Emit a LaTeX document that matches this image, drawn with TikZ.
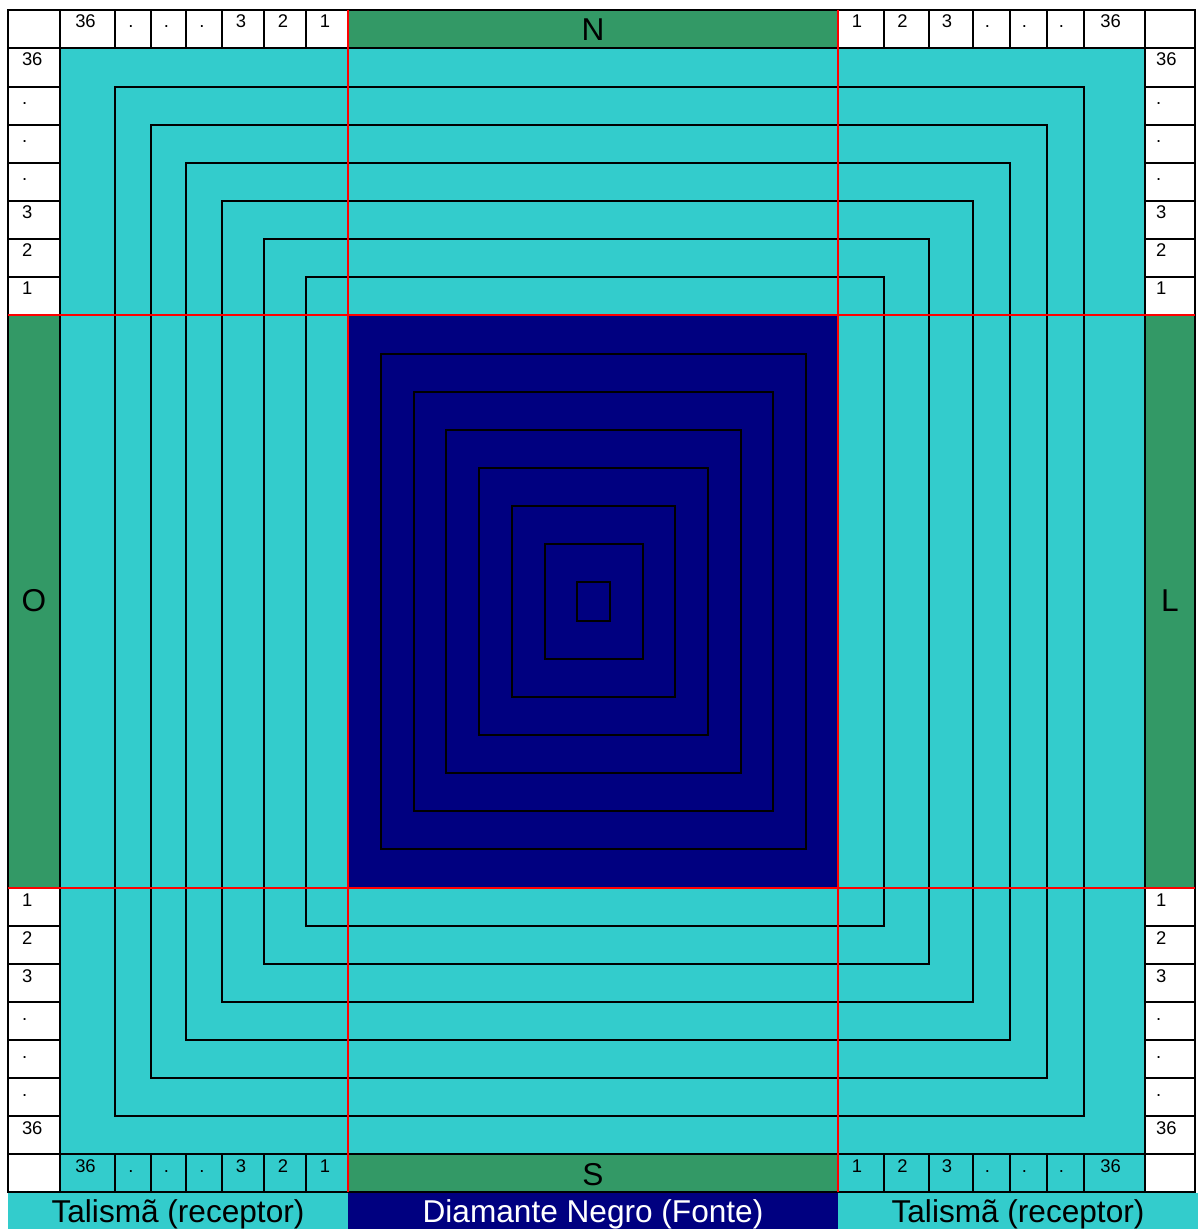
\documentclass[tikz,border=0pt]{standalone}
\usepackage{fontspec}
\setmainfont{Liberation Sans}
\usepackage{tikz}
\usetikzlibrary{positioning}
\definecolor{turquesa}{HTML}{33CCCC}
\definecolor{verde}{HTML}{339966}
\definecolor{marinho}{HTML}{000080}

\begin{document}
\begin{tikzpicture}[x=0.5pt, y=-0.5pt, line width=1pt,
    num/.style={font=\fontsize{9.2}{10}\selectfont, anchor=base, inner sep=0pt},
    cardeal/.style={font=\fontsize{15.8}{17}\selectfont, inner sep=0pt},
    legenda/.style={font=\fontsize{15.8}{17}\selectfont, anchor=base, inner sep=0pt},
    vermelho/.style={red, line width=1pt}]
    \useasboundingbox (0,0) rectangle (1198,1229);

    % Fundos
    \fill[white] (0,0) rectangle (1198,1229);
    \fill[turquesa] (60,48) rectangle (1145,1154);
    \fill[turquesa] (60,1154) rectangle (348,1192);
    \fill[turquesa] (838,1154) rectangle (1145,1192);
    \fill[marinho] (348,315) rectangle (838,888);

    % Faixas cardeais
    \draw[fill=verde] (348,10) rectangle (838,48);
    \draw[fill=verde] (348,1154) rectangle (838,1192);
    \draw[fill=verde] (8,315) rectangle (60,888);
    \draw[fill=verde] (1145,315) rectangle (1195,888);
    \node[cardeal, anchor=base] (N) at (593,41) {N};
    \node[cardeal, anchor=base] (S) at (593,1185) {S};
    \node[cardeal] (O) at (34,601) {O};
    \node[cardeal] (L) at (1170,601) {L};

    % Cantos vazios
    \draw (8,10) rectangle (60,48);
    \draw (1145,10) rectangle (1195,48);
    \draw (8,1154) rectangle (60,1192);
    \draw (1145,1154) rectangle (1195,1192);

    % Escalas horizontais (topo e base)
    \foreach \a/\b/\t [count=\i] in {60/115/36, 115/151/., 151/186/., 186/222/., 222/264/3, 264/306/2, 306/348/1} {
        \draw (\a,10) rectangle (\b,48);
        \draw (\a,1154) rectangle (\b,1192);
        \node[num] (nw\i) at ({(\a+\b)/2-2},28) {\t};
        \node[num] (sw\i) at ({(\a+\b)/2-2},1172) {\t};
    }
    \foreach \a/\b/\t [count=\i] in {838/884/1, 884/929/2, 929/973/3, 973/1010/., 1010/1047/., 1047/1084/., 1084/1145/36} {
        \draw (\a,10) rectangle (\b,48);
        \draw (\a,1154) rectangle (\b,1192);
        \node[num] (ne\i) at ({(\a+\b)/2-4},28) {\t};
        \node[num] (se\i) at ({(\a+\b)/2-4},1172) {\t};
    }

    % Escalas verticais (esquerda e direita)
    \foreach \a/\b/\t [count=\i] in {48/87/36, 87/125/., 125/163/., 163/201/., 201/239/3, 239/277/2, 277/315/1} {
        \draw (8,\a) rectangle (60,\b);
        \draw (1145,\a) rectangle (1195,\b);
        \node[num, anchor=base west] (wn\i) at (21,\a+18) {\t};
        \node[num, anchor=base west] (en\i) at (1155,\a+18) {\t};
    }
    \foreach \a/\b/\t [count=\i] in {888/926/1, 926/964/2, 964/1002/3, 1002/1040/., 1040/1078/., 1078/1116/., 1116/1154/36} {
        \draw (8,\a) rectangle (60,\b);
        \draw (1145,\a) rectangle (1195,\b);
        \node[num, anchor=base west] (ws\i) at (21,\a+18) {\t};
        \node[num, anchor=base west] (es\i) at (1155,\a+18) {\t};
    }

    % Molduras do talisma
    \foreach \l/\t/\r/\b in {115/87/1084/1116, 151/125/1047/1078, 186/163/1010/1040,
                             222/201/973/1002, 264/239/929/964, 306/277/884/926}
        \draw (\l,\t) rectangle (\r,\b);

    % Molduras do diamante
    \foreach \k in {0,...,6}
        \draw ({381+32.7*\k},{354+38*\k}) rectangle ({806-32.7*\k},{849-38*\k});

    % Eixos
    \draw[vermelho] (348,10) -- (348,1192);
    \draw[vermelho] (838,10) -- (838,1192);
    \draw[vermelho] (8,315) -- (1195,315);
    \draw[vermelho] (8,888) -- (1195,888);

    % Legenda
    \fill[turquesa] (8,1193) rectangle (348,1229);
    \fill[marinho] (348,1193) rectangle (838,1229);
    \fill[turquesa] (838,1193) rectangle (1198,1229);
    \node[legenda] (recE) at (178,1222) {Talismã (receptor)};
    \node[legenda, white] (fonte) at (593,1222) {Diamante Negro (Fonte)};
    \node[legenda] (recD) at (1018,1222) {Talismã (receptor)};
\end{tikzpicture}
\end{document}
